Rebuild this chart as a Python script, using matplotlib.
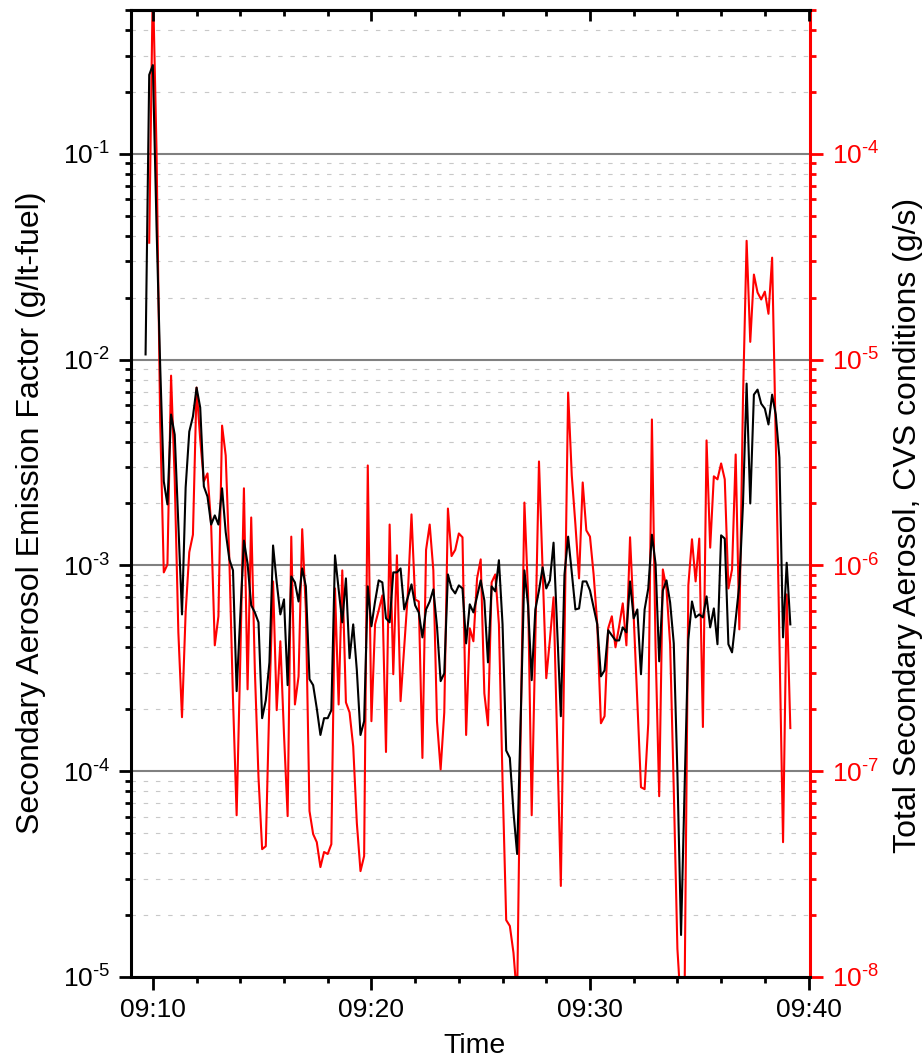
import matplotlib
matplotlib.use("Agg")
import matplotlib.pyplot as plt
import matplotlib.dates as mdates
import matplotlib.ticker as mticker
import numpy as np
import pandas as pd

plt.rcParams["font.family"] = ["Liberation Sans", "DejaVu Sans"]
plt.rcParams["mathtext.fontset"] = "custom"
plt.rcParams["mathtext.rm"] = "Liberation Sans"
plt.rcParams["mathtext.default"] = "regular"

# one sample every 10 s, first at 09:09:40
START = "2000-01-01 09:09:40"
STEP = "10s"
X_MIN = "2000-01-01 09:09:00"
X_MAX = "2000-01-01 09:40:04"

# left axis, black: secondary aerosol emission factor (g/lt-fuel)
emission_factor = [
    1.06e-2, 0.242, 0.270, 0.0452, 9.46e-3, 2.56e-3, 1.98e-3, 5.41e-3, 4.32e-3, 1.58e-3,
    5.78e-4, 2.39e-3, 4.47e-3, 5.29e-3, 7.31e-3, 5.85e-3, 2.42e-3, 2.16e-3, 1.58e-3, 1.75e-3,
    1.58e-3, 2.37e-3, 1.45e-3, 1.07e-3, 9.46e-4, 2.45e-4, 5.72e-4, 1.32e-3, 1.02e-3, 6.40e-4,
    5.91e-4, 5.29e-4, 1.81e-4, 2.21e-4, 3.38e-4, 1.25e-3, 8.27e-4, 5.78e-4, 6.84e-4, 2.62e-4,
    8.84e-4, 8.27e-4, 6.68e-4, 9.67e-4, 7.91e-4, 2.80e-4, 2.62e-4, 2.02e-4, 1.50e-4, 1.81e-4,
    1.81e-4, 1.98e-4, 1.12e-3, 7.65e-4, 5.29e-4, 8.65e-4, 3.54e-4, 5.17e-4, 3.09e-4, 1.50e-4,
    1.75e-4, 7.91e-4, 5.06e-4, 6.68e-4, 8.46e-4, 8.27e-4, 5.53e-4, 5.29e-4, 9.25e-4, 9.25e-4,
    9.67e-4, 6.11e-4, 7.00e-4, 8.09e-4, 6.40e-4, 5.91e-4, 4.47e-4, 6.11e-4, 6.68e-4, 7.65e-4,
    5.06e-4, 2.74e-4, 2.99e-4, 9.04e-4, 7.73e-4, 7.31e-4, 8.00e-4, 7.73e-4, 4.18e-4, 6.47e-4,
    5.91e-4, 7.07e-4, 8.46e-4, 6.76e-4, 3.38e-4, 7.91e-4, 7.48e-4, 1.06e-3, 5.17e-4, 1.26e-4,
    1.16e-4, 6.32e-5, 3.96e-5, 1.85e-4, 9.46e-4, 6.40e-4, 2.77e-4, 6.11e-4, 7.56e-4, 9.78e-4,
    7.73e-4, 8.46e-4, 1.29e-3, 4.95e-4, 1.85e-4, 9.04e-4, 1.38e-3, 9.25e-4, 6.11e-4, 6.18e-4,
    8.36e-4, 8.36e-4, 7.56e-4, 6.25e-4, 5.17e-4, 2.89e-4, 3.09e-4, 4.84e-4, 4.57e-4, 4.32e-4,
    4.32e-4, 5.00e-4, 4.73e-4, 8.36e-4, 5.53e-4, 6.11e-4, 2.96e-4, 6.11e-4, 7.73e-4, 1.41e-3,
    1.02e-3, 3.42e-4, 7.56e-4, 8.46e-4, 6.61e-4, 4.18e-4, 9.78e-5, 1.60e-5, 8.65e-5, 4.37e-4,
    6.68e-4, 5.59e-4, 5.78e-4, 5.59e-4, 7.07e-4, 5.00e-4, 6.18e-4, 4.14e-4, 1.40e-3, 1.35e-3,
    4.14e-4, 3.78e-4, 5.47e-4, 8.09e-4, 1.98e-3, 7.65e-3, 2.00e-3, 6.76e-3, 7.15e-3, 6.11e-3,
    5.78e-3, 4.84e-3, 6.76e-3, 5.41e-3, 3.34e-3, 4.47e-4, 1.03e-3, 5.17e-4,
]

# right axis, red: total secondary aerosol at CVS conditions (g/s)
total_secondary = [
    np.nan, 3.70e-5, 6.99e-4, 1.05e-4, 5.12e-6, 9.25e-7, 1.01e-6, 8.36e-6, 2.62e-6, 4.73e-7,
    1.83e-7, 5.91e-7, 1.16e-6, 1.41e-6, 7.31e-6, 4.09e-6, 2.56e-6, 2.80e-6, 1.58e-6, 4.09e-7,
    5.66e-7, 4.78e-6, 3.42e-6, 1.07e-6, 2.24e-7, 6.11e-8, 3.50e-7, 2.37e-6, 2.50e-7, 1.71e-6,
    3.09e-7, 9.35e-8, 4.18e-8, 4.32e-8, 2.24e-7, 8.36e-7, 1.98e-7, 4.28e-7, 1.51e-7, 6.05e-8,
    1.38e-6, 2.11e-7, 2.89e-7, 1.50e-6, 6.11e-7, 6.40e-8, 4.95e-8, 4.52e-8, 3.42e-8, 4.05e-8,
    3.96e-8, 4.42e-8, 7.73e-7, 2.11e-7, 9.46e-7, 2.16e-7, 1.93e-7, 1.32e-7, 5.59e-8, 3.27e-8,
    3.87e-8, 3.06e-6, 1.75e-7, 5.17e-7, 6.05e-7, 7.15e-7, 1.24e-7, 1.58e-6, 2.96e-7, 1.12e-6,
    2.19e-7, 4.00e-7, 7.31e-7, 1.77e-6, 6.84e-7, 6.68e-7, 1.16e-7, 1.19e-6, 1.58e-6, 9.46e-7,
    1.75e-7, 1.02e-7, 1.93e-7, 1.89e-6, 1.11e-6, 1.19e-6, 1.43e-6, 1.37e-6, 1.50e-7, 4.95e-7,
    4.28e-7, 8.65e-7, 1.07e-6, 2.39e-7, 1.67e-7, 8.27e-7, 9.04e-7, 5.17e-7, 8.94e-8, 1.89e-8,
    1.77e-8, 1.31e-8, 7.8e-9, 1.71e-7, 2.02e-6, 7.31e-7, 6.11e-8, 4.37e-7, 3.20e-6, 9.46e-7,
    2.83e-7, 4.37e-7, 7.00e-7, 1.37e-7, 2.77e-8, 4.37e-7, 6.92e-6, 2.74e-6, 1.58e-6, 8.65e-7,
    2.53e-6, 1.48e-6, 1.38e-6, 9.04e-7, 5.17e-7, 1.71e-7, 1.85e-7, 4.95e-7, 5.66e-7, 4.00e-7,
    5.06e-7, 6.54e-7, 4.09e-7, 1.37e-6, 5.66e-7, 2.19e-7, 8.36e-8, 8.18e-8, 1.71e-7, 5.12e-6,
    4.00e-7, 7.56e-8, 9.56e-7, 7.73e-7, 4.14e-7, 8.18e-8, 1.37e-8, 7.0e-9, 9.25e-9, 8.00e-7,
    1.34e-6, 8.36e-7, 1.35e-6, 1.64e-7, 4.05e-6, 1.22e-6, 2.71e-6, 2.62e-6, 3.13e-6, 2.62e-6,
    7.73e-7, 9.56e-7, 3.46e-6, 4.89e-7, 6.40e-6, 3.78e-5, 1.22e-5, 2.59e-5, 2.12e-5, 1.96e-5,
    2.14e-5, 1.67e-5, 3.13e-5, 4.09e-6, 4.37e-7, 4.52e-8, 7.23e-7, 1.62e-7,
]

LEFT_YLIM = (1e-5, 0.5)
RIGHT_YLIM = (1e-8, 5e-4)
RED = "#ff0000"
TICK_FS = 19
LABEL_FS = 23


def decade_label(value, _pos):
    # Origin-style "10^-n" with a plain hyphen in the exponent
    exp = int(round(np.log10(value)))
    sign = "\\text{-}" if exp < 0 else ""
    return f"$10^{{{sign}{abs(exp)}}}$"


def setup_time_axis(axis):
    axis.set_major_locator(mdates.MinuteLocator(byminute=[0, 10, 20, 30, 40, 50]))
    axis.set_minor_locator(mdates.MinuteLocator(byminute=range(0, 60, 2)))


def setup_log_axis(axis):
    axis.set_major_locator(mticker.LogLocator(base=10, numticks=20))
    axis.set_minor_locator(mticker.LogLocator(base=10, subs=np.arange(2, 10), numticks=20))
    axis.set_major_formatter(mticker.FuncFormatter(decade_label))
    axis.set_minor_formatter(mticker.NullFormatter())


def main():
    times = pd.date_range(START, periods=len(emission_factor), freq=STEP).to_pydatetime()

    fig = plt.figure(figsize=(9.23, 10.61), dpi=100)
    ax = fig.add_axes([131 / 923, 1 - 977 / 1061, 679 / 923, 967 / 1061])
    ax2 = ax.twinx()
    ax.set_zorder(ax2.get_zorder() + 1)
    ax.patch.set_visible(False)

    ax2.plot(times, total_secondary, color=RED, lw=1.5)
    ax.plot(times, emission_factor, color="black", lw=1.5)

    ax.set_yscale("log")
    ax2.set_yscale("log")
    ax.set_ylim(*LEFT_YLIM)
    ax2.set_ylim(*RIGHT_YLIM)
    ax.set_xlim(pd.Timestamp(X_MIN).to_pydatetime(), pd.Timestamp(X_MAX).to_pydatetime())

    setup_time_axis(ax.xaxis)
    ax.xaxis.set_major_formatter(mdates.DateFormatter("%H:%M"))
    setup_log_axis(ax.yaxis)
    setup_log_axis(ax2.yaxis)

    # grid lives on the red axis so both curves sit above it
    ax2.set_axisbelow(True)
    ax2.yaxis.grid(True, which="major", color="#808080", lw=1.5)
    ax2.yaxis.grid(True, which="minor", color="#c8c8c8", lw=0.8, linestyle=(0, (4, 7)))

    for s in ["left", "bottom", "top"]:
        ax.spines[s].set_linewidth(2.2)
    ax.spines["right"].set_visible(False)
    for s in ["left", "bottom", "top"]:
        ax2.spines[s].set_visible(False)
    ax2.spines["right"].set_color(RED)
    ax2.spines["right"].set_linewidth(2.2)

    ax.tick_params(axis="y", which="major", direction="out", length=9, width=2,
                   labelsize=TICK_FS, pad=6)
    ax.tick_params(axis="y", which="minor", direction="out", length=4.5, width=2)
    ax.tick_params(axis="x", which="major", direction="out", length=9, width=2,
                   labelsize=TICK_FS, pad=6)
    ax.tick_params(axis="x", which="minor", direction="out", length=4.5, width=2)
    ax2.tick_params(axis="y", which="major", colors=RED, length=9, width=2,
                    labelsize=TICK_FS, pad=7)
    ax2.tick_params(axis="y", which="minor", colors=RED, length=4.5, width=2)

    # inward ticks along the top edge
    top = ax.secondary_xaxis("top")
    setup_time_axis(top.xaxis)
    top.xaxis.set_major_formatter(mticker.NullFormatter())
    top.tick_params(which="major", direction="in", length=8, width=2)
    top.tick_params(which="minor", direction="in", length=4, width=2)
    top.spines["top"].set_linewidth(2.2)

    fig.text(474 / 923, 1 - 1053 / 1061, "Time", ha="center", va="baseline", fontsize=20.5)
    fig.text(31 / 923, 1 - 513 / 1061, "Secondary Aerosol Emission Factor (g/lt-fuel)",
             rotation=90, ha="center", va="center", fontsize=LABEL_FS)
    fig.text(908 / 923, 1 - 525 / 1061, "Total Secondary Aerosol, CVS conditions (g/s)",
             rotation=90, ha="center", va="center", fontsize=LABEL_FS)

    fig.savefig("out.png", dpi=100)
    plt.close(fig)


if __name__ == "__main__":
    main()
